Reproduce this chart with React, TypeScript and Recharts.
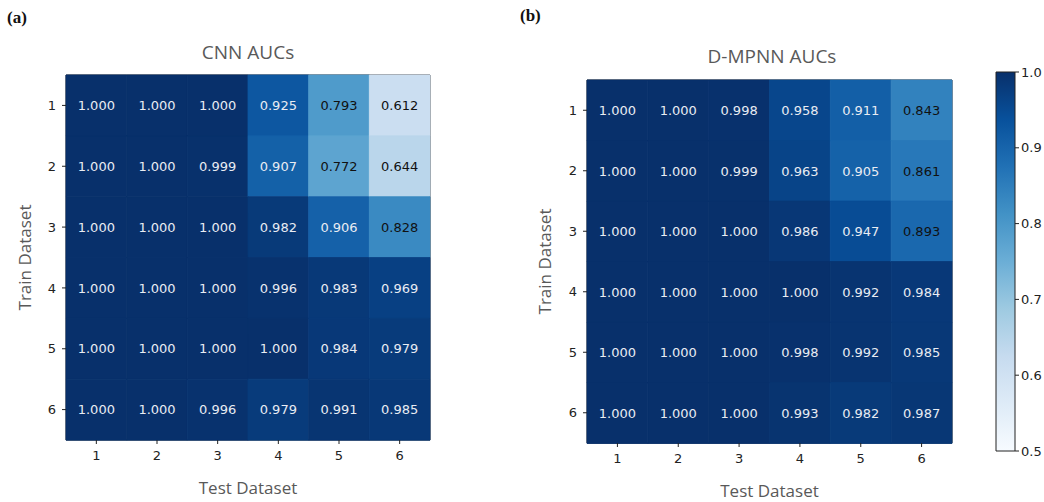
import { Bar, BarChart, Cell, Label, LabelList, ReferenceArea, XAxis, YAxis } from "recharts";

const trainSets = ["1", "2", "3", "4", "5", "6"];
const testSets = ["1", "2", "3", "4", "5", "6"];

const cnnAuc = [
  [1.0, 1.0, 1.0, 0.925, 0.793, 0.612],
  [1.0, 1.0, 0.999, 0.907, 0.772, 0.644],
  [1.0, 1.0, 1.0, 0.982, 0.906, 0.828],
  [1.0, 1.0, 1.0, 0.996, 0.983, 0.969],
  [1.0, 1.0, 1.0, 1.0, 0.984, 0.979],
  [1.0, 1.0, 0.996, 0.979, 0.991, 0.985],
];

const mpnnAuc = [
  [1.0, 1.0, 0.998, 0.958, 0.911, 0.843],
  [1.0, 1.0, 0.999, 0.963, 0.905, 0.861],
  [1.0, 1.0, 1.0, 0.986, 0.947, 0.893],
  [1.0, 1.0, 1.0, 1.0, 0.992, 0.984],
  [1.0, 1.0, 1.0, 0.998, 0.992, 0.985],
  [1.0, 1.0, 1.0, 0.993, 0.982, 0.987],
];

const colorbarTicks = [0.5, 0.6, 0.7, 0.8, 0.9, 1.0];
const vmin = 0.5;
const vmax = 1.0;

// matplotlib "Blues"
const BLUES = ["#f7fbff", "#deebf7", "#c6dbef", "#9ecae1", "#6baed6", "#4292c6", "#2171b5", "#08519c", "#08306b"];

function hex(c: string) {
  return [1, 3, 5].map((i) => parseInt(c.slice(i, i + 2), 16));
}

function blues(v: number) {
  const t = Math.min(1, Math.max(0, (v - vmin) / (vmax - vmin))) * (BLUES.length - 1);
  const i = Math.min(BLUES.length - 2, Math.floor(t));
  const f = t - i;
  const a = hex(BLUES[i]);
  const b = hex(BLUES[i + 1]);
  const m = a.map((x, k) => Math.round(x + (b[k] - x) * f));
  return `rgb(${m[0]},${m[1]},${m[2]})`;
}

const tickStyle = { fill: "#222", fontSize: 13, fontFamily: "DejaVu Sans" };
const labelStyle = { fill: "#595959", fontSize: 17, fontFamily: "Open Sans" };

function CellText(props: any) {
  const { x, y, width, height, value } = props;
  return (
    <text
      x={x + width / 2}
      y={y + height / 2}
      textAnchor="middle"
      dominantBaseline="central"
      fontFamily="DejaVu Sans"
      fontSize={13}
      fill={value < 0.9 ? "#111" : "#e9ecf3"}
    >
      {Number(value).toFixed(3)}
    </text>
  );
}

function Heatmap({
  auc,
  width,
  height,
  margin,
  yLabelOffset,
}: {
  auc: number[][];
  width: number;
  height: number;
  margin: { top: number; right: number; bottom: number; left: number };
  yLabelOffset: number;
}) {
  const rows = trainSets.map((name, r) => {
    const row: Record<string, any> = { train: name };
    testSets.forEach((_, c) => {
      row[`c${c}`] = 1;
      row[`a${c}`] = auc[r][c];
    });
    return row;
  });
  return (
    <BarChart width={width} height={height} data={rows} layout="vertical" margin={margin} barCategoryGap={0}>
      <XAxis
        type="number"
        domain={[0, testSets.length]}
        ticks={testSets.map((_, i) => i + 0.5)}
        tickFormatter={(v: number) => testSets[Math.round(v - 0.5)]}
        tick={tickStyle}
        tickLine={{ stroke: "#222" }}
        tickSize={4}
        tickMargin={7}
        axisLine={false}
        height={58}
      >
        <Label value="Test Dataset" position="insideBottom" offset={4} style={labelStyle} />
      </XAxis>
      <YAxis
        type="category"
        dataKey="train"
        tick={tickStyle}
        tickLine={{ stroke: "#222" }}
        tickSize={4}
        tickMargin={6}
        axisLine={false}
        width={60}
      >
        <Label
          value="Train Dataset"
          angle={-90}
          position="insideLeft"
          offset={yLabelOffset}
          style={{ ...labelStyle, textAnchor: "middle" }}
        />
      </YAxis>
      {testSets.map((_, c) => (
        <Bar key={c} dataKey={`c${c}`} stackId="m" isAnimationActive={false}>
          {rows.map((row, r) => {
            const fill = blues(row[`a${c}`]);
            return <Cell key={r} fill={fill} stroke={fill} strokeWidth={0.8} />;
          })}
          <LabelList dataKey={`a${c}`} content={CellText} />
        </Bar>
      ))}
      <ReferenceArea x1={0} x2={testSets.length} fill="none" stroke="#222" strokeWidth={1} ifOverflow="visible" />
    </BarChart>
  );
}

function Colorbar() {
  const data = [{ name: "AUC", range: [vmin, vmax] }];
  return (
    <BarChart width={54} height={502} data={data} margin={{ top: 72, right: 0, bottom: 51, left: 6 }} barCategoryGap={0}>
      <defs>
        <linearGradient id="bluesGrad" x1="0" y1="1" x2="0" y2="0">
          {BLUES.map((c, i) => (
            <stop key={i} offset={`${(i / (BLUES.length - 1)) * 100}%`} stopColor={c} />
          ))}
        </linearGradient>
      </defs>
      <XAxis dataKey="name" hide />
      <YAxis
        orientation="right"
        type="number"
        domain={[vmin, vmax]}
        ticks={colorbarTicks}
        tickFormatter={(v: number) => v.toFixed(1)}
        tick={tickStyle}
        tickLine={{ stroke: "#222" }}
        tickSize={4}
        tickMargin={2}
        axisLine={false}
        width={29}
      />
      <Bar dataKey="range" fill="url(#bluesGrad)" stroke="#222" strokeWidth={1} isAnimationActive={false} />
    </BarChart>
  );
}

const titleStyle: React.CSSProperties = {
  position: "absolute",
  fontFamily: "Open Sans",
  fontSize: 19,
  color: "#595959",
  transform: "translate(-50%, -50%)",
  whiteSpace: "nowrap",
};

const panelStyle: React.CSSProperties = {
  position: "absolute",
  fontFamily: "Liberation Serif",
  fontWeight: "bold",
  fontSize: 17,
  color: "#111",
};

export default function App() {
  return (
    <div style={{ position: "absolute", left: 0, top: 0, width: 1044, height: 502, background: "#fff", overflow: "hidden" }}>
      <div style={{ ...panelStyle, left: 7, top: 8 }}>(a)</div>
      <div style={{ ...panelStyle, left: 520, top: 6 }}>(b)</div>
      <div style={{ ...titleStyle, left: 248, top: 52 }}>CNN AUCs</div>
      <div style={{ ...titleStyle, left: 772, top: 56 }}>D-MPNN AUCs</div>
      <div style={{ position: "absolute", left: 0, top: 0 }}>
        <Heatmap auc={cnnAuc} width={450} height={502} margin={{ top: 75, right: 20, bottom: 4, left: 6 }} yLabelOffset={19} />
      </div>
      <div style={{ position: "absolute", left: 510, top: 0 }}>
        <Heatmap auc={mpnnAuc} width={450} height={502} margin={{ top: 80, right: 8, bottom: 1, left: 17 }} yLabelOffset={18} />
      </div>
      <div style={{ position: "absolute", left: 990, top: 0 }}>
        <Colorbar />
      </div>
    </div>
  );
}
